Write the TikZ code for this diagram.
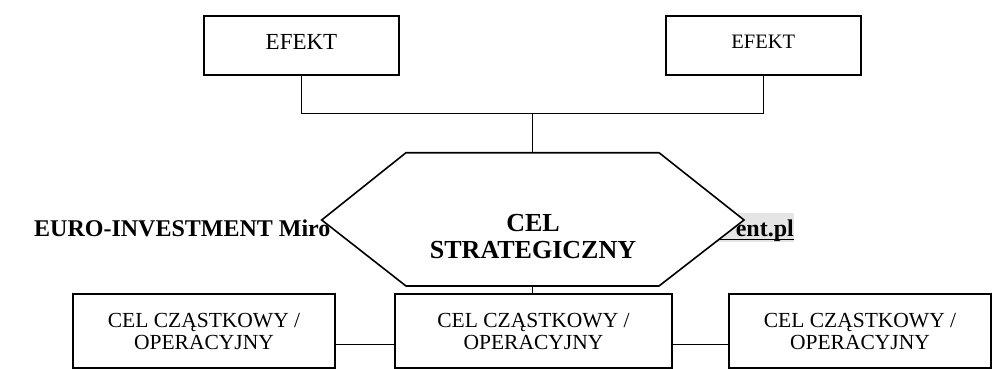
\documentclass[tikz,border=0pt]{standalone}
\usepackage{fontspec}
\setmainfont{Liberation Serif}
\begin{document}
\begin{tikzpicture}[x=1pt,y=-1pt,
  box/.style={draw, line width=2pt, inner sep=0pt, align=center},
  efektbox/.style={box, minimum width=195pt, minimum height=59.3pt, text depth=8pt},
  celbox/.style={box, minimum height=74.3pt, font=\fontsize{21.5}{21.7}\selectfont},
  link/.style={line width=1.3pt},
  hexline/.style={line width=1.6pt, fill=white, line join=miter},
  hdr/.style={inner sep=0pt, font=\fontsize{24}{24}\selectfont\bfseries}
]
\useasboundingbox (0,0) rectangle (997,369);

% header text partly hidden by the hexagon
\node[hdr, anchor=base west] (euro) at (34,236.7) {EURO-INVESTMENT Miro};
\fill[black!10] (700,212.5) rectangle (794,242);
\node[hdr, anchor=base east] (www) at (794,236.7) {ent.pl};
\draw[line width=1.3pt] (700,239.5) -- (794,239.5);

% top boxes
\node[efektbox, font=\fontsize{23}{23}\selectfont] (efl) at (301.5,45.7) {EFEKT};
\node[efektbox, font=\fontsize{20.5}{20.5}\selectfont] (efr) at (763.3,45.7) {EFEKT};

% hexagon
\coordinate (hexT) at (532.5,152.7);
\coordinate (hexB) at (532.5,286);
\draw[hexline] (406,152.7) -- (659,152.7) -- (744,220) -- (659,286) -- (406,286) -- (321.7,220) -- cycle;
\node[align=center, inner sep=0pt, font=\fontsize{26}{26.3}\selectfont\bfseries] (strat) at (533,236.6) {CEL\\STRATEGICZNY};

% bottom boxes
\node[celbox, minimum width=262pt] (cl) at (204,331.2) {CEL CZĄSTKOWY /\\OPERACYJNY};
\node[celbox, minimum width=277pt] (cm) at (533.5,331.2) {CEL CZĄSTKOWY /\\OPERACYJNY};
\node[celbox, minimum width=262pt] (cr) at (860,331.2) {CEL CZĄSTKOWY /\\OPERACYJNY};

% connectors
\coordinate (jn) at (532.5,113.3);
\draw[link] (efl.south) |- (jn) -| (efr.south);
\draw[link] (jn) -- (hexT);
\draw[link] (hexB) -- (hexB |- cm.north);
\draw[link] ([yshift=-13pt]cl.east) -- ([yshift=-13pt]cm.west);
\draw[link] ([yshift=-13pt]cm.east) -- ([yshift=-13pt]cr.west);
\end{tikzpicture}
\end{document}
